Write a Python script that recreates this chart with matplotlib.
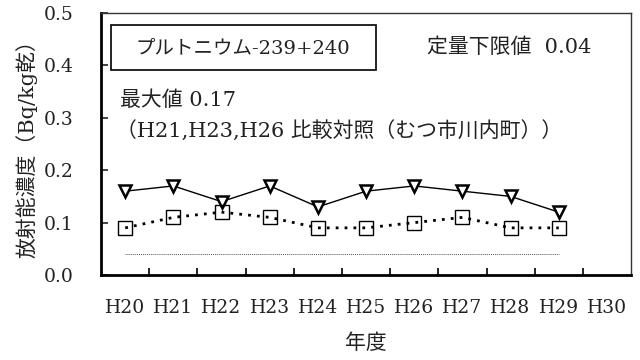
import matplotlib
matplotlib.use("Agg")
import matplotlib.pyplot as plt
from matplotlib.patches import Rectangle
from matplotlib.ticker import FormatStrFormatter

plt.rcParams['font.family'] = ['DejaVu Serif', 'Noto Sans CJK JP']

years = ['H20', 'H21', 'H22', 'H23', 'H24', 'H25', 'H26', 'H27', 'H28', 'H29', 'H30']
control = [0.16, 0.17, 0.14, 0.17, 0.13, 0.16, 0.17, 0.16, 0.15, 0.12]
site = [0.09, 0.11, 0.12, 0.11, 0.09, 0.09, 0.10, 0.11, 0.09, 0.09]
limit = 0.04

fig = plt.figure(figsize=(6.4, 3.6), dpi=100)
ax = fig.add_axes([0.158, 0.236, 0.828, 0.728])

x = list(range(len(control)))
# lower quantification limit
ax.plot(x, [limit] * len(x), color='#555555', linestyle=(0, (1, 1)), linewidth=0.7)
ax.plot(x, control, color='black', linewidth=1.0, marker='v', markersize=9,
        markerfacecolor='white', markeredgecolor='black', markeredgewidth=1.8)
ax.plot(x, site, color='black', linewidth=2.0, linestyle=(0, (1, 2.2)), marker='s',
        markersize=10, markerfacecolor='none', markeredgecolor='black', markeredgewidth=1.0)

ax.set_xlim(-0.5, len(years) - 0.5)
ax.set_ylim(0, 0.5)
ax.set_yticks([0.0, 0.1, 0.2, 0.3, 0.4, 0.5])
ax.yaxis.set_major_formatter(FormatStrFormatter('%.1f'))
ax.set_xticks(range(len(years)))
ax.set_xticklabels(years)
ax.set_xticks([i + 0.5 for i in range(len(years) - 1)], minor=True)
ax.tick_params(axis='x', which='major', length=0, pad=17, labelsize=13.5, colors='#222222')
ax.tick_params(axis='x', which='minor', direction='in', length=5, width=1.2)
ax.tick_params(axis='y', direction='in', length=5, width=1.2, pad=20, labelsize=13.5, colors='#222222')

for side in ['left', 'bottom']:
    ax.spines[side].set_linewidth(2.0)
for side in ['top', 'right']:
    ax.spines[side].set_linewidth(1.0)
    ax.spines[side].set_color('#333333')

ax.set_ylabel('放射能濃度（Bq/kg乾）', fontsize=15, color='#222222', labelpad=4)
ax.set_xlabel('年度', fontsize=15, color='#222222', labelpad=12)

ax.add_patch(Rectangle((0.019, 0.782), 0.5, 0.172, transform=ax.transAxes,
                       fill=False, edgecolor='black', linewidth=1.2))
ax.text(0.268, 0.866, 'プルトニウム-239+240', transform=ax.transAxes,
        ha='center', va='center', fontsize=14, color='#222222')
ax.text(0.615, 0.87, '定量下限値  0.04', transform=ax.transAxes,
        ha='left', va='center', fontsize=15, color='#222222')
ax.text(0.036, 0.668, '最大値 0.17', transform=ax.transAxes,
        ha='left', va='center', fontsize=15, color='#222222')
ax.text(0.028, 0.553, '（H21,H23,H26 比較対照（むつ市川内町））', transform=ax.transAxes,
        ha='left', va='center', fontsize=15, color='#222222')

fig.savefig('out.png', dpi=100)
